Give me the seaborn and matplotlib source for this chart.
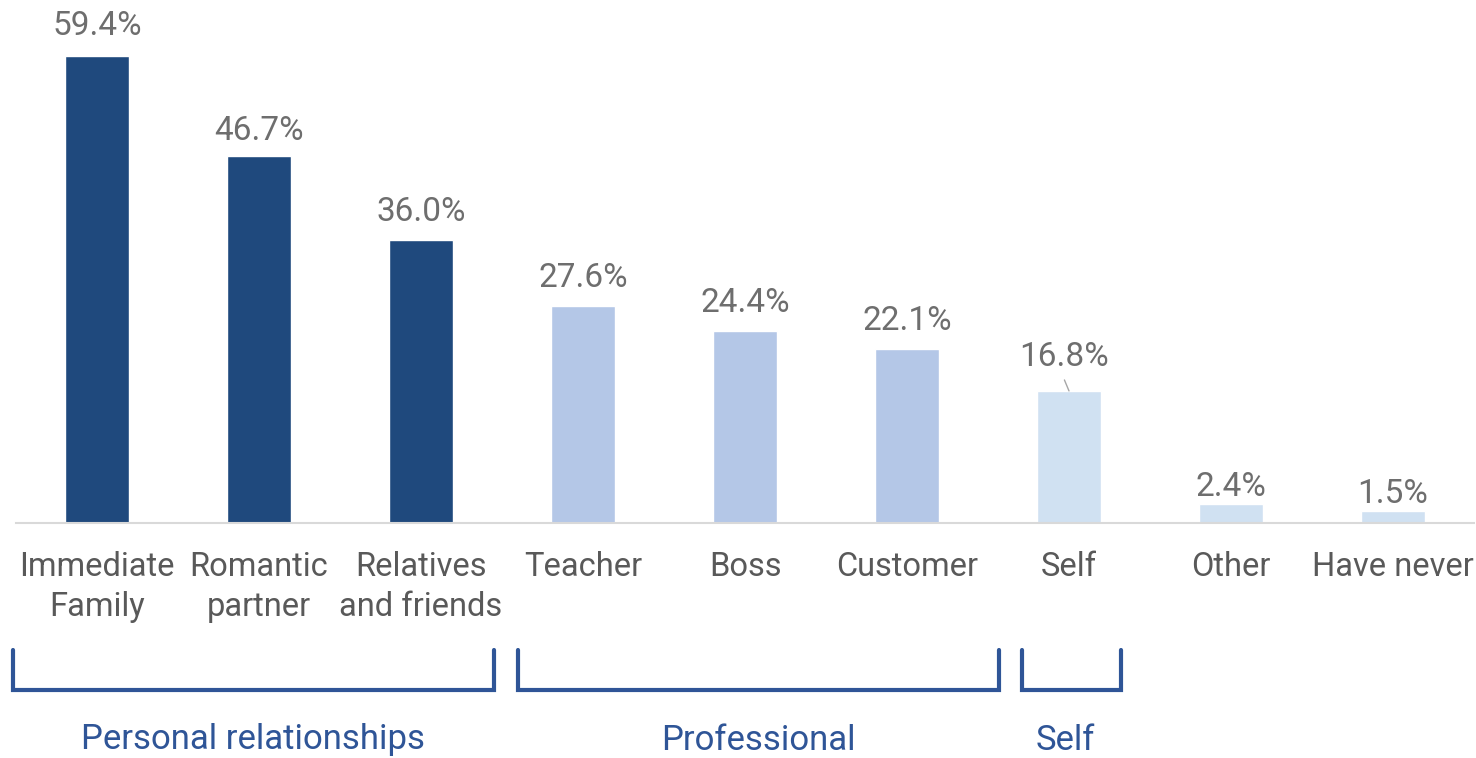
import pandas as pd
import matplotlib.pyplot as plt
import matplotlib.transforms as mtransforms
import seaborn as sns

# Chart data
categories = ['Immediate\nFamily', 'Romantic\npartner', 'Relatives\nand friends',
              'Teacher', 'Boss', 'Customer', 'Self', 'Other', 'Have never']
values = [59.4, 46.7, 36.0, 27.6, 24.4, 22.1, 16.8, 2.4, 1.5]
shade = ['dark', 'dark', 'dark', 'mid', 'mid', 'mid', 'light', 'light', 'light']
group_names = ['Personal relationships', 'Professional', 'Self']

palette = {'dark': '#1F497D', 'mid': '#B4C7E7', 'light': '#D0E1F2'}
bracket_color = '#2F5597'
# label gaps above each bar (Excel placed them a bit unevenly)
label_gap = [1.75, 1.1, 1.5, 1.5, 1.6, 1.6, 2.3, 0.2, 0.2]

df = pd.DataFrame({'Category': categories, 'Value': values, 'Shade': shade})

sns.set_style('white')
plt.rcParams['font.family'] = ['Roboto', 'DejaVu Sans']

fig = plt.figure(figsize=(14.76, 7.58), dpi=100)
ax = fig.add_axes([16 / 1476, 1 - 523 / 758, (1474 - 16) / 1476, (523 - 12) / 758])

sns.barplot(data=df, x='Category', y='Value', hue='Shade', palette=palette,
            dodge=False, legend=False, width=0.4, saturation=1, ax=ax)

ax.set_xlim(-0.5, 8.5)
ax.set_ylim(0, 65)
ax.set_xlabel('')
ax.set_ylabel('')
ax.set_yticks([])
for s in ['top', 'right', 'left']:
    ax.spines[s].set_visible(False)
ax.spines['bottom'].set_color('#D9D9D9')
ax.spines['bottom'].set_linewidth(1.5)
ax.tick_params(axis='x', length=0, pad=20, labelsize=23.5, labelcolor='#595959')
for lbl in ax.get_xticklabels():
    lbl.set_linespacing(1.32)

# value labels
for i, v in enumerate(values):
    if categories[i] == 'Self':
        ax.annotate(f'{v:.1f}%', xy=(i, v), xytext=(i - 0.03, v + label_gap[i]),
                    ha='center', va='bottom', fontsize=24, color='#6E6E6E',
                    arrowprops=dict(arrowstyle='-', color='#A6A6A6', lw=1,
                                    shrinkA=3, shrinkB=0, relpos=(0.47, 0)))
    else:
        ax.text(i, v + label_gap[i], f'{v:.1f}%', ha='center', va='bottom',
                fontsize=24, color='#6E6E6E')

# group brackets below the axis
trans = mtransforms.blended_transform_factory(ax.transData, fig.transFigure)
y_top = 1 - 650 / 758
y_bot = 1 - 690 / 758
y_txt = 1 - 740 / 758
bracket_x = [(-0.52, 2.45), (2.6, 5.57), (5.71, 6.32)]
label_x = [0.966, 4.083, 5.978]
for name, (x0, x1), tx in zip(group_names, bracket_x, label_x):
    ax.plot([x0, x0, x1, x1], [y_top, y_bot, y_bot, y_top], transform=trans,
            color=bracket_color, lw=3, clip_on=False, solid_joinstyle='miter')
    ax.text(tx, y_txt, name, transform=trans, ha='center', va='center',
            fontsize=25, color='#2F5597')

fig.savefig('out.png', dpi=100)
